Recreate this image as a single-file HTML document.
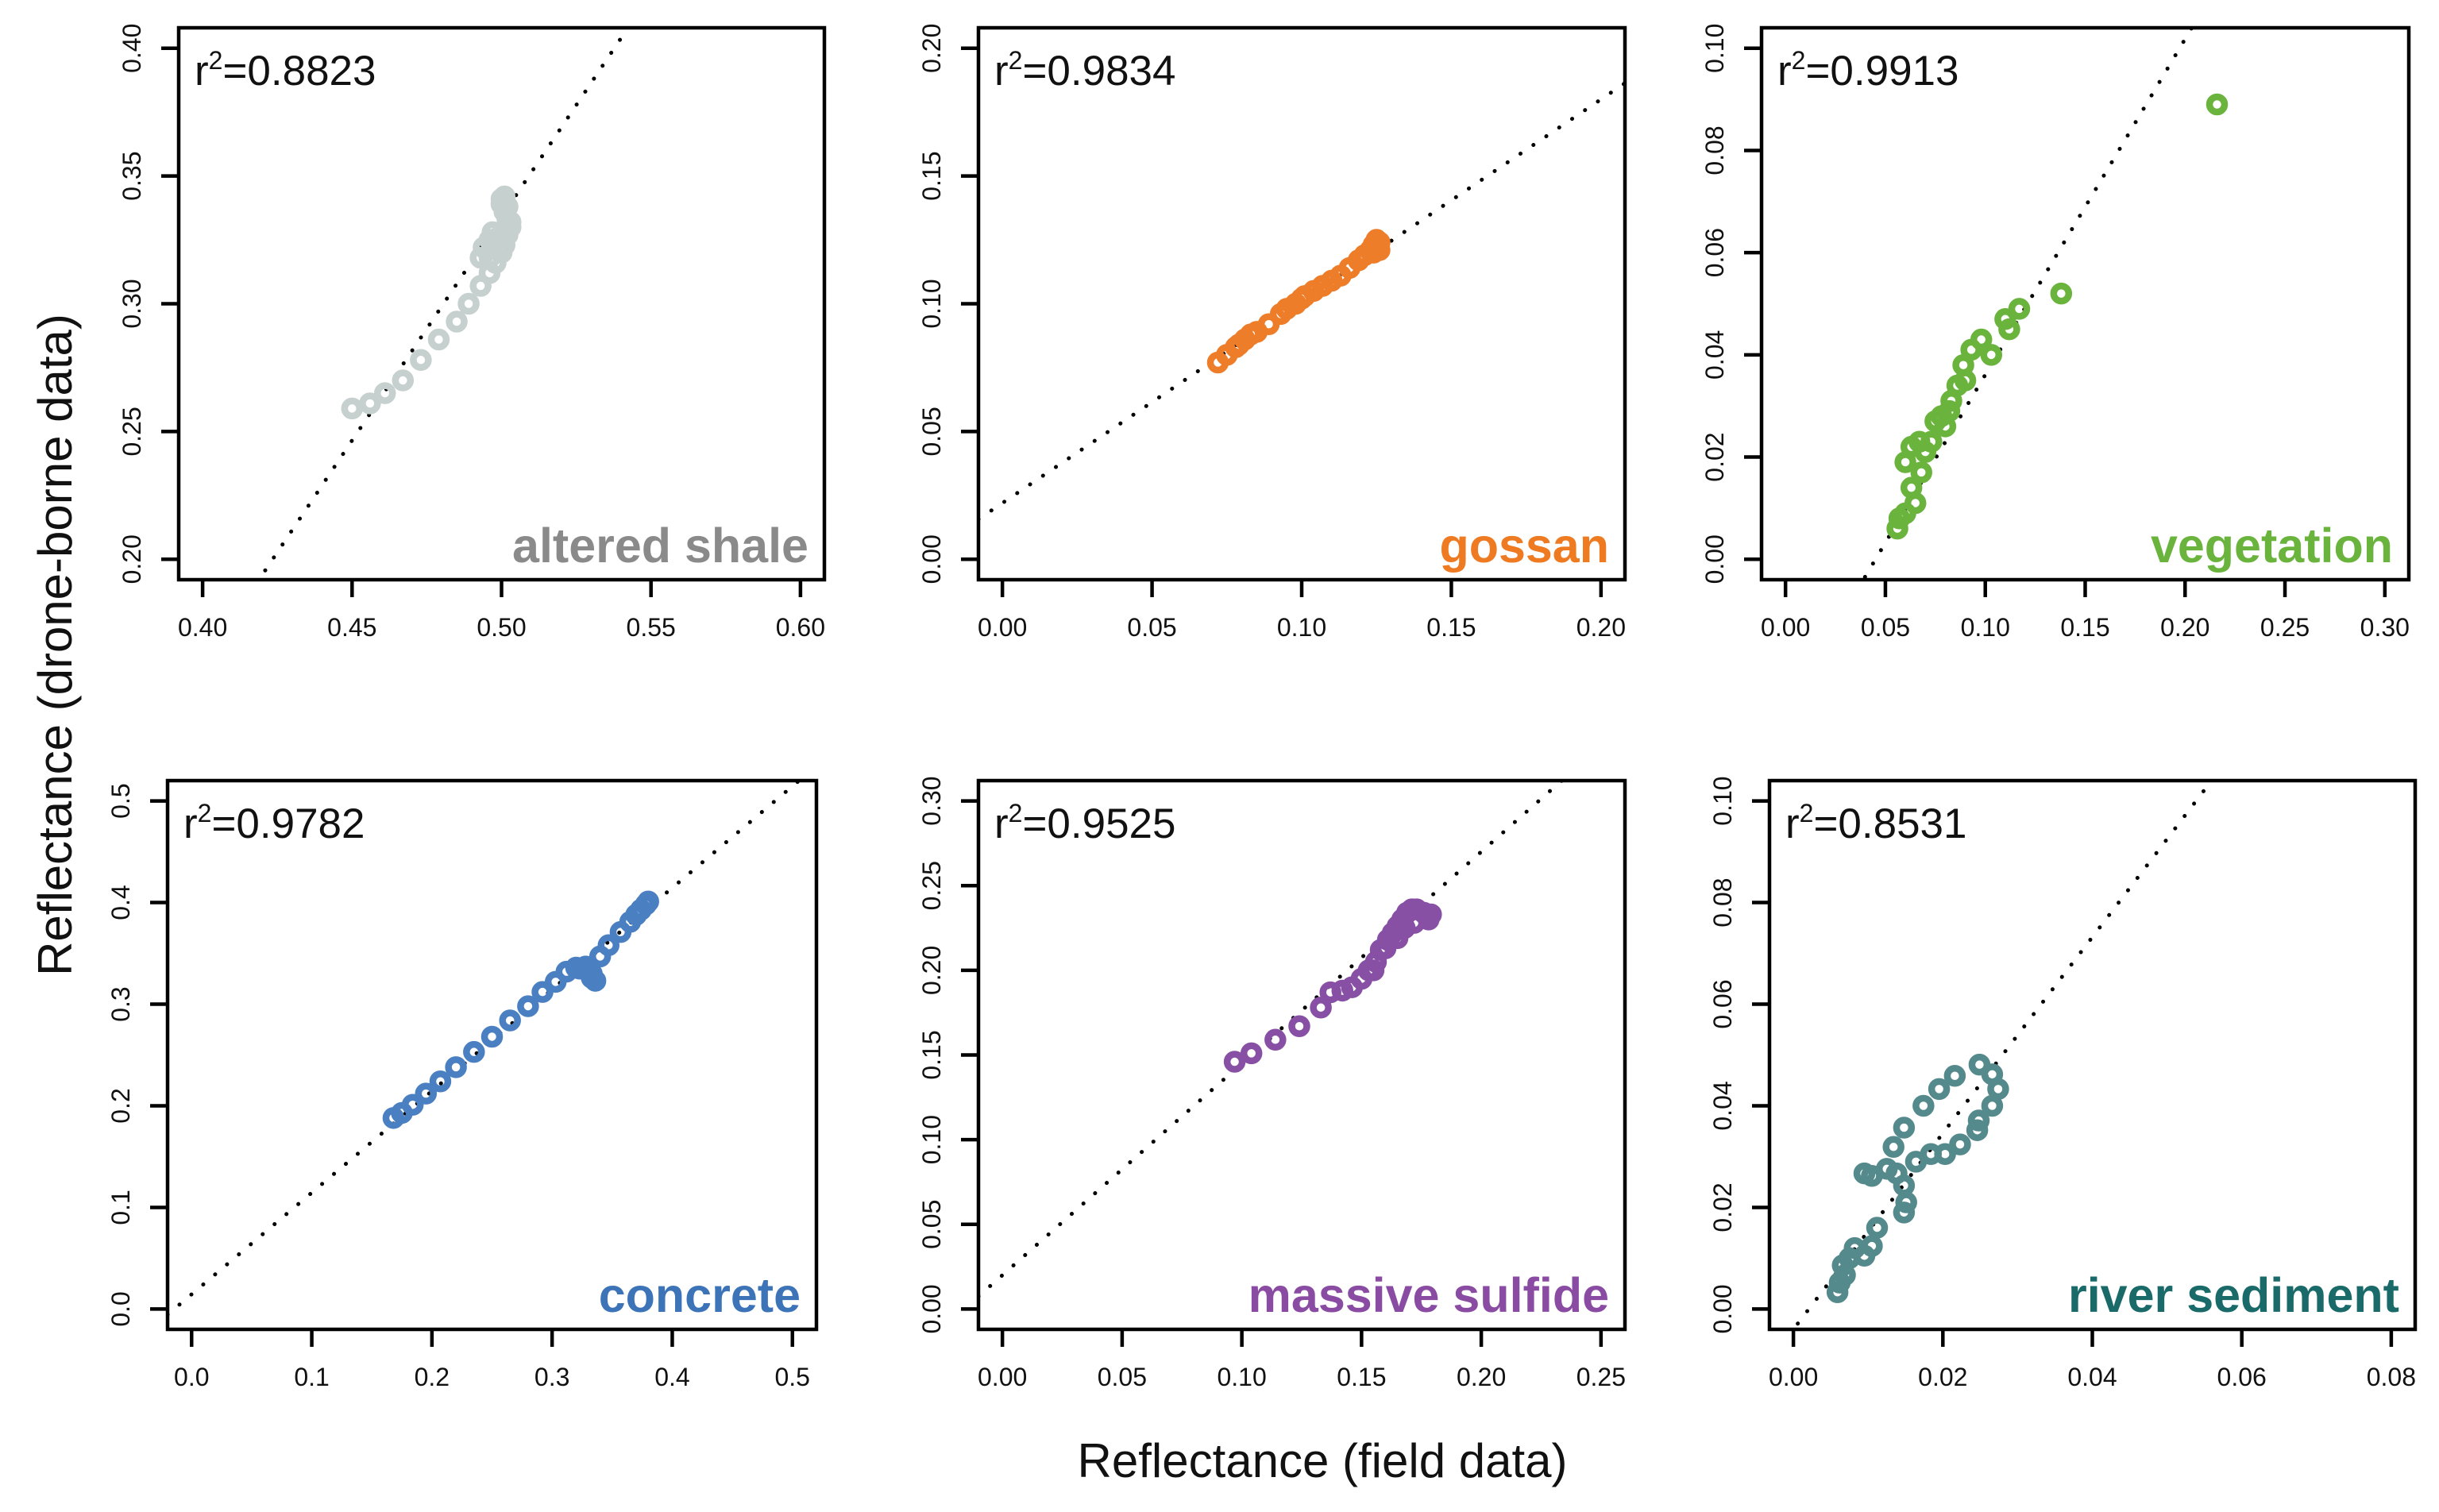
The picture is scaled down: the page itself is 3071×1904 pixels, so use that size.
<!DOCTYPE html>
<html><head><meta charset="utf-8">
<style>
html,body{margin:0;padding:0;background:#fff;}
svg{display:block;font-family:"Liberation Sans",Arial,sans-serif;}
</style></head>
<body>
<svg id="chart" width="3071" height="1904" viewBox="0 0 3071 1904" xmlns="http://www.w3.org/2000/svg">
<text x="0" y="0" transform="translate(90,812) rotate(-90)" text-anchor="middle" font-size="60" fill="#111">Reflectance (drone-borne data)</text>
<text x="1665" y="1860" text-anchor="middle" font-size="60" fill="#111">Reflectance (field data)</text>
</svg>
<script>
// ---- data ----
const panelNames = ["altered shale","gossan","vegetation","concrete","massive sulfide","river sediment"];
const r2Values = ["0.8823","0.9834","0.9913","0.9782","0.9525","0.8531"];
const xLims = [[0.4,0.6],[0,0.2],[0,0.3],[0,0.5],[0,0.25],[0,0.08]];
const yLims = [[0.2,0.4],[0,0.2],[0,0.1],[0,0.5],[0,0.3],[0,0.1]];
const xTicks = [[0.40,0.45,0.50,0.55,0.60],[0,0.05,0.10,0.15,0.20],[0,0.05,0.10,0.15,0.20,0.25,0.30],[0,0.1,0.2,0.3,0.4,0.5],[0,0.05,0.10,0.15,0.20,0.25],[0,0.02,0.04,0.06,0.08]];
const yTicks = [[0.20,0.25,0.30,0.35,0.40],[0,0.05,0.10,0.15,0.20],[0,0.02,0.04,0.06,0.08,0.10],[0,0.1,0.2,0.3,0.4,0.5],[0,0.05,0.10,0.15,0.20,0.25,0.30],[0,0.02,0.04,0.06,0.08,0.10]];
const xDigits = [2,2,2,1,2,2];
const yDigits = [2,2,2,1,2,2];
const fitIntercepts = [-0.541,0.022,-0.0296,0.0145,0.02,-0.004];
const fitSlopes = [1.75,0.79,0.657,1.0,1.25,1.93];

const shaleX = [0.450,0.456,0.461,0.467,0.473,0.479,0.485,0.489,0.493,0.496,0.498,0.496,0.493,0.494,0.496,0.497,0.499,0.501,0.502,0.503,0.502,0.501,0.500,0.500,0.501,0.502,0.503,0.500];
const shaleY = [0.259,0.261,0.265,0.270,0.278,0.286,0.293,0.300,0.307,0.312,0.316,0.318,0.318,0.322,0.325,0.328,0.326,0.323,0.327,0.330,0.333,0.336,0.339,0.341,0.342,0.338,0.332,0.320];
const gossanX = [0.072,0.075,0.078,0.081,0.085,0.089,0.093,0.098,0.101,0.104,0.107,0.110,0.113,0.116,0.119,0.121,0.123,0.124,0.125,0.126,0.126,0.124,0.100,0.095,0.083,0.079];
const gossanY = [0.077,0.080,0.083,0.086,0.089,0.092,0.096,0.100,0.103,0.105,0.107,0.109,0.111,0.114,0.117,0.119,0.121,0.123,0.125,0.124,0.121,0.120,0.102,0.098,0.088,0.084];
const vegX = [0.056,0.057,0.060,0.065,0.063,0.060,0.068,0.067,0.063,0.070,0.073,0.075,0.078,0.082,0.083,0.086,0.090,0.089,0.093,0.098,0.103,0.110,0.112,0.117,0.138,0.216,0.080];
const vegY = [0.006,0.008,0.009,0.011,0.014,0.019,0.017,0.023,0.022,0.021,0.023,0.027,0.028,0.029,0.031,0.034,0.035,0.038,0.041,0.043,0.040,0.047,0.045,0.049,0.052,0.089,0.026];
const concreteX = [0.168,0.175,0.184,0.195,0.207,0.220,0.235,0.250,0.265,0.280,0.292,0.303,0.312,0.320,0.328,0.333,0.336,0.333,0.330,0.323,0.340,0.347,0.357,0.365,0.370,0.374,0.378,0.380];
const concreteY = [0.188,0.193,0.201,0.212,0.224,0.238,0.253,0.268,0.284,0.298,0.312,0.322,0.332,0.336,0.337,0.330,0.323,0.326,0.333,0.335,0.347,0.358,0.371,0.381,0.388,0.393,0.398,0.401];
const sulfideX = [0.097,0.104,0.114,0.124,0.133,0.137,0.142,0.146,0.150,0.153,0.156,0.158,0.161,0.163,0.165,0.167,0.169,0.171,0.173,0.176,0.179,0.178,0.172,0.168,0.165,0.160,0.155];
const sulfideY = [0.146,0.151,0.159,0.167,0.178,0.187,0.188,0.190,0.195,0.200,0.205,0.212,0.218,0.222,0.226,0.230,0.234,0.236,0.236,0.234,0.233,0.230,0.228,0.225,0.219,0.213,0.200];
const riverX = [0.0059,0.0062,0.0069,0.0066,0.0075,0.0082,0.0095,0.0105,0.0112,0.0095,0.0105,0.0125,0.0138,0.0148,0.0151,0.0148,0.0134,0.0148,0.0164,0.0184,0.0203,0.0223,0.0246,0.0248,0.0266,0.0274,0.0266,0.0249,0.0216,0.0195,0.0174];
const riverY = [0.0033,0.0052,0.0067,0.0086,0.0100,0.0120,0.0105,0.0124,0.0160,0.0267,0.0262,0.0276,0.0267,0.0243,0.0210,0.0190,0.0319,0.0357,0.0290,0.0305,0.0305,0.0324,0.0352,0.0371,0.0400,0.0433,0.0462,0.0481,0.0459,0.0433,0.0400];

const seriesX = [shaleX,gossanX,vegX,concreteX,sulfideX,riverX];
const seriesY = [shaleY,gossanY,vegY,concreteY,sulfideY,riverY];

// ---- layout / style ----
const boxes = [[225,35,1038,730],[1232,35,2046,730],[2218,35,3033,730],[211,983,1028,1674],[1232,983,2046,1674],[2228,983,3041,1674]];
const pointColors = ["#c6d0ce","#ee7d2a","#6ab43e","#4a80c2","#8850a4","#558a8c"];
const labelColors = ["#8a8a8a","#ee7a22","#6ab43e","#3d74b8","#8a4ba3","#1a6a6a"];

const NS = "http://www.w3.org/2000/svg";
const svg = document.getElementById("chart");
function mk(tag, attrs, parent){
  const e = document.createElementNS(NS, tag);
  for (const k in attrs) e.setAttribute(k, attrs[k]);
  (parent||svg).appendChild(e);
  return e;
}
const defs = mk("defs", {});

for (let p = 0; p < 6; p++) {
  const [L,T,R,B] = boxes[p];
  const [x0,x1] = xLims[p], [y0,y1] = yLims[p];
  const xpad = (x1-x0)*0.04, ypad = (y1-y0)*0.04;
  const xmin = x0-xpad, xmax = x1+xpad, ymin = y0-ypad, ymax = y1+ypad;
  const sx = v => L + (v-xmin)/(xmax-xmin)*(R-L);
  const sy = v => B - (v-ymin)/(ymax-ymin)*(B-T);

  const g = mk("g", {});
  
  

  const cp = mk("clipPath", {id:"clip"+p}, defs);
  mk("rect", {x:L, y:T, width:R-L, height:B-T}, cp);

  const fa = fitIntercepts[p], fb = fitSlopes[p];
  const fit = mk("line", {x1:sx(xmin), y1:sy(fa+fb*xmin), x2:sx(xmax), y2:sy(fa+fb*xmax),
    stroke:"#000", "stroke-width":5, "stroke-dasharray":"0.1 19.5", "stroke-linecap":"round", "clip-path":"url(#clip"+p+")"}, g);
  
  

  const xs = seriesX[p], ys = seriesY[p];
  for (let i = 0; i < xs.length; i++) {
    const c = mk("circle", {cx:sx(xs[i]), cy:sy(ys[i]), r:9.5, fill:"none", stroke:pointColors[p], "stroke-width":8.5}, g);
    
    
  }

  const box = mk("rect", {x:L, y:T, width:R-L, height:B-T, fill:"none", stroke:"#000", "stroke-width":4.5}, g);
  
  

  xTicks[p].forEach(v => {
    const x = sx(v);
    const t = mk("line", {x1:x, y1:B, x2:x, y2:B+22, stroke:"#000", "stroke-width":4.5}, g);
    
    
    const lb = mk("text", {x:x, y:B+71, "text-anchor":"middle", "font-size":32, fill:"#111"}, g);
    lb.textContent = v.toFixed(xDigits[p]);
    
    
  });
  yTicks[p].forEach(v => {
    const y = sy(v);
    const t = mk("line", {x1:L-22, y1:y, x2:L, y2:y, stroke:"#000", "stroke-width":4.5}, g);
    
    
    const lb = mk("text", {x:0, y:0, transform:"translate("+(L-48)+","+y+") rotate(-90)", "text-anchor":"middle", "font-size":32, fill:"#111"}, g);
    lb.textContent = v.toFixed(yDigits[p]);
    
    
  });

  const r2 = mk("text", {x:L+20, y:T+72, "font-size":53, fill:"#111"}, g);
  
  
  const t1 = mk("tspan", {}, r2); t1.textContent = "r";
  const t2 = mk("tspan", {"font-size":32, dy:-20}, r2); t2.textContent = "2";
  const t3 = mk("tspan", {dy:20}, r2); t3.textContent = "=" + r2Values[p];

  const nm = mk("text", {x:R-20, y:B-22, "text-anchor":"end", "font-size":61, "font-weight":"bold", fill:labelColors[p]}, g);
  nm.textContent = panelNames[p];
  
  
}
</script>
</body></html>
